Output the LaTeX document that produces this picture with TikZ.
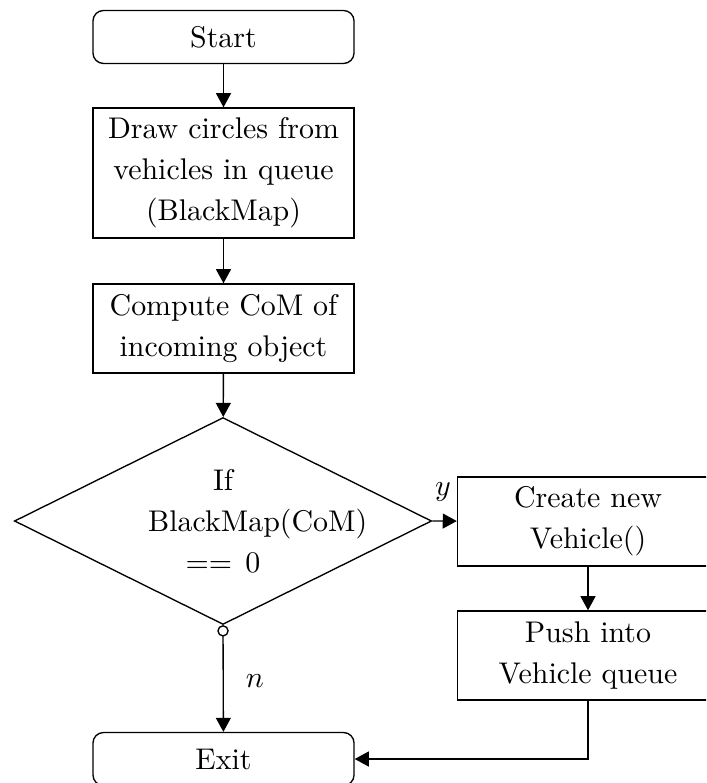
\documentclass[tikz,border=0pt]{standalone}
\usetikzlibrary{shapes.geometric,arrows.meta}
\begin{document}
\begin{tikzpicture}[x=0.3344pt,y=-0.3344pt,
  base/.style={draw, font=\fontsize{10}{13.7}\selectfont, align=center, line width=0.45pt},
  terminal/.style={base, rectangle, rounded corners=3.5pt, inner sep=0pt,
    minimum width=87.3pt, minimum height=17.7pt},
  process/.style={base, rectangle, inner sep=0pt, text width=80pt,
    minimum width=87.3pt, minimum height=29.8pt},
  decision/.style={base, diamond, shape aspect=2, inner sep=0pt, text width=50pt,
    minimum width=139.5pt, minimum height=69.2pt},
  tip/.style={Triangle[length=4.7pt,width=5pt]},
  flow/.style={draw, line width=0.45pt, -{Triangle[length=4.7pt,width=5pt]}},
  lbl/.style={font=\fontsize{10}{12}\selectfont}]
\clip (0,0) rectangle (706,783);

% main column
\node[terminal] (start) at (223.5,37) {Start};
\node[process, minimum height=43.5pt] (circles) at (223.5,173)
  {Draw circles from\\vehicles in queue\\(BlackMap)};
\node[process] (com) at (223.5,328.5) {Compute CoM of\\incoming object};
\node[decision] (dec) at (223,521)
  {If\\\makebox[50pt][l]{BlackMap(CoM)}\\$==0$};
\node[terminal] (exit) at (223.5,759) {Exit};

% "yes" branch
\node[process] (create) at (588,521.5) {Create new\\Vehicle()};
\node[process] (push) at (588,655.5) {Push into\\Vehicle queue};

% connectors
\draw[flow] (start) -- (circles);
\draw[flow] (circles) -- (com);
\draw[flow] (com) -- (dec);
\draw[flow] (dec.east) -- node[lbl, pos=0.44, above=3pt] {$y$} (create);
\draw[flow] (create) -- (push);
\draw[flow] (push.south) |- (exit.east);
\draw[line width=0.45pt, {Circle[open]}-{Triangle[length=4.7pt,width=5pt]}]
  (dec.south) -- node[lbl, pos=0.52, right=4pt] {$n$} (exit);
\end{tikzpicture}
\end{document}
